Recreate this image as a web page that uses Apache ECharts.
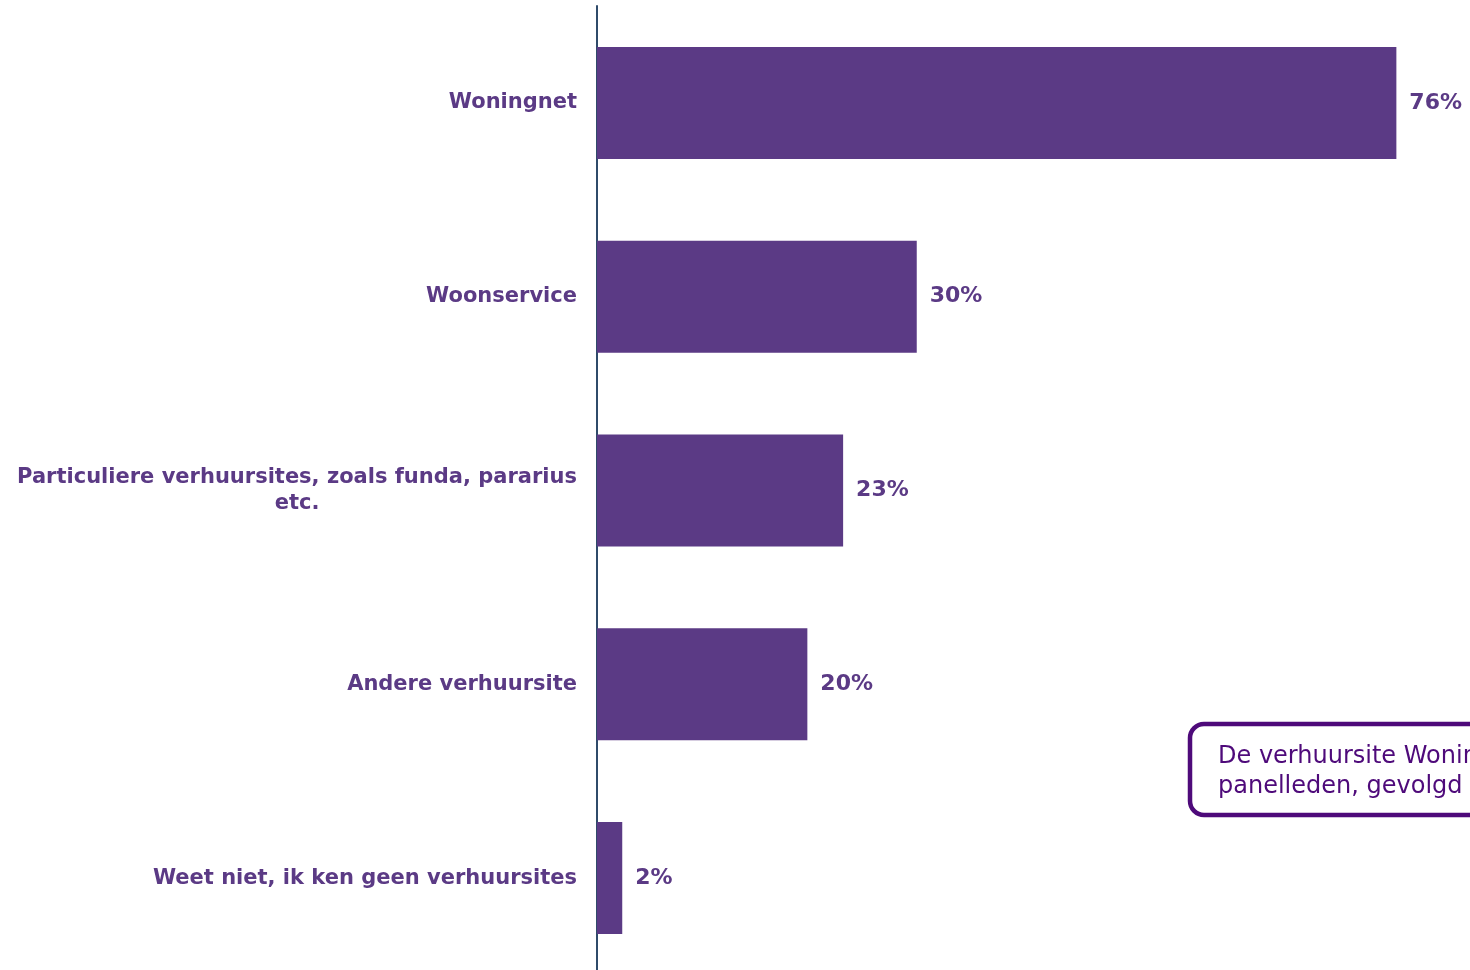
<!DOCTYPE html>
<html>
<head>
<meta charset="utf-8">
<script src="https://cdn.jsdelivr.net/npm/echarts@6/dist/echarts.min.js"></script>
<style>
html,body{margin:0;padding:0;background:#fff;}
#chart{width:1470px;height:970px;}
</style>
</head>
<body>
<div id="chart"></div>
<script>
const categories = [
  'Woningnet',
  'Woonservice',
  'Particuliere verhuursites, zoals funda, pararius\netc.',
  'Andere verhuursite',
  'Weet niet, ik ken geen verhuursites'
];
const values = [76, 30.4, 23.4, 20, 2.4];
const labels = ['76%', '30%', '23%', '20%', '2%'];
const noteLines = [
  'De verhuursite Woningnet is het meest bekend onder de',
  'panelleden, gevolgd door Woonservice.'
];

const purple = '#5B3A85';
const chart = echarts.init(document.getElementById('chart'));
chart.setOption({
  animation: false,
  grid: { left: 597, right: 0, top: 6, height: 969, outerBoundsMode: 'none', containLabel: false },
  xAxis: { type: 'value', min: 0, max: 83, show: false },
  yAxis: {
    type: 'category',
    inverse: true,
    data: categories,
    axisLine: { show: true, lineStyle: { color: '#2F4B6A', width: 2 } },
    axisTick: { show: false },
    axisLabel: {
      margin: 20,
      formatter: function (v) {
        return v.split('\n').map(function (l) { return '{a|' + l + '}'; }).join('\n');
      },
      rich: {
        a: {
          color: purple,
          fontFamily: 'DejaVu Sans',
          fontWeight: 'bold',
          fontSize: 21,
          lineHeight: 26,
          align: 'center'
        }
      }
    }
  },
  series: [{
    type: 'bar',
    data: values,
    barWidth: 112,
    itemStyle: { color: purple },
    label: {
      show: true,
      position: 'right',
      distance: 13,
      color: purple,
      fontFamily: 'DejaVu Sans',
      fontWeight: 'bold',
      fontSize: 22,
      formatter: function (p) { return labels[p.dataIndex]; }
    }
  }],
  graphic: [
    {
      type: 'rect',
      shape: { x: 1190, y: 724, width: 420, height: 91, r: 14 },
      style: { fill: '#ffffff', stroke: '#4E0A7A', lineWidth: 4.5 }
    },
    {
      type: 'text',
      left: 1218,
      top: 742,
      style: {
        text: noteLines.join('\n'),
        fill: '#4E0A7A',
        fontFamily: 'DejaVu Sans',
        fontSize: 24,
        lineHeight: 30
      }
    }
  ]
});
</script>
</body>
</html>
